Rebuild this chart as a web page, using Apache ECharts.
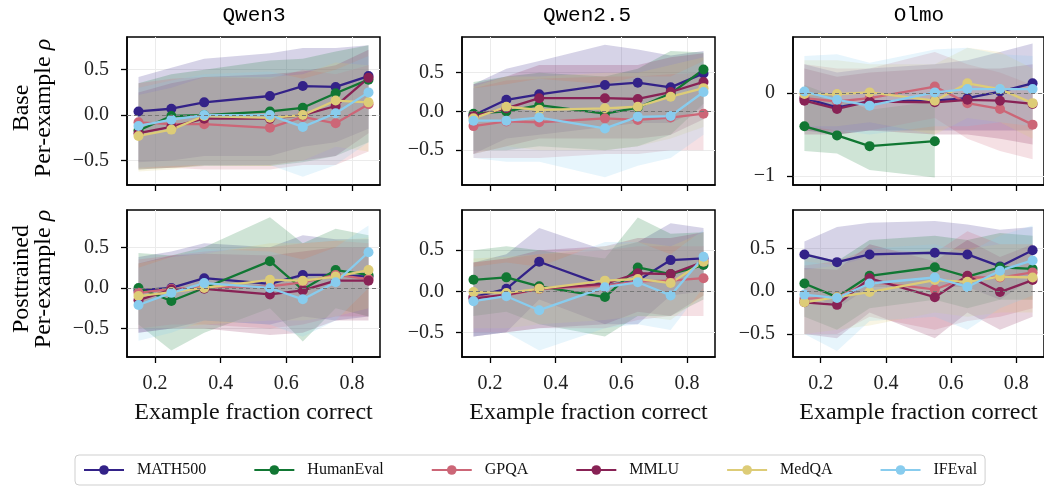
<!DOCTYPE html>
<html>
<head>
<meta charset="utf-8">
<script src="https://cdn.jsdelivr.net/npm/echarts@6/dist/echarts.min.js"></script>
<style>
html, body { margin: 0; padding: 0; background: #fff; }
#main { width: 1044px; height: 489px; }
</style>
</head>
<body>
<div id="main"></div>
<script>
// x positions (fraction of samples correct) and benchmark names
var fractions = [0.15, 0.25, 0.35, 0.55, 0.65, 0.75, 0.85];
var benchmarks = ["MATH500", "HumanEval", "GPQA", "MMLU", "MedQA", "IFEval"];
var colors = ["#332288", "#117733", "#CC6677", "#882255", "#DDCC77", "#88CCEE"];
var models = ["Qwen3", "Qwen2.5", "Olmo"];
var stages = ["Base", "Posttrained"];
var xTicks = [0.2, 0.4, 0.6, 0.8];

// ---- Qwen3 base ----
var qwen3BaseMean = [
  [0.04, 0.07, 0.14, 0.21, 0.32, 0.31, 0.43],
  [-0.17, -0.01, 0.0, 0.04, 0.08, 0.24, 0.39],
  [-0.08, -0.10, -0.10, -0.14, -0.02, -0.09, 0.12],
  [-0.20, -0.13, -0.04, -0.04, 0.0, 0.10, 0.41],
  [-0.23, -0.16, -0.01, -0.03, 0.0, 0.16, 0.14],
  [-0.12, -0.05, 0.0, 0.0, -0.13, 0.02, 0.25]
];
var qwen3BaseLo = [
  [-0.52, -0.50, -0.45, -0.45, -0.35, -0.30, -0.15],
  [-0.60, -0.58, -0.56, -0.56, -0.52, -0.45, -0.30],
  [-0.58, -0.58, -0.60, -0.60, -0.55, -0.55, -0.40],
  [-0.60, -0.58, -0.55, -0.55, -0.50, -0.45, -0.20],
  [-0.62, -0.60, -0.55, -0.56, -0.50, -0.35, -0.40],
  [-0.58, -0.56, -0.55, -0.55, -0.68, -0.55, -0.30]
];
var qwen3BaseHi = [
  [0.42, 0.52, 0.62, 0.68, 0.74, 0.74, 0.77],
  [0.35, 0.45, 0.50, 0.60, 0.62, 0.70, 0.77],
  [0.35, 0.40, 0.42, 0.40, 0.50, 0.45, 0.55],
  [0.25, 0.35, 0.42, 0.45, 0.48, 0.55, 0.72],
  [0.22, 0.30, 0.42, 0.42, 0.45, 0.58, 0.55],
  [0.30, 0.38, 0.45, 0.48, 0.40, 0.50, 0.65]
];

// ---- Qwen2.5 base ----
var qwen25BaseMean = [
  [-0.05, 0.15, 0.22, 0.34, 0.37, 0.31, 0.49],
  [-0.03, 0.0, 0.08, -0.03, 0.05, 0.23, 0.54],
  [-0.19, -0.13, -0.14, -0.09, -0.11, -0.08, -0.03],
  [-0.06, 0.04, 0.17, 0.17, 0.16, 0.25, 0.38],
  [-0.09, 0.06, 0.02, 0.04, 0.06, 0.19, 0.30],
  [-0.12, -0.12, -0.08, -0.22, -0.07, -0.06, 0.25]
];
var qwen25BaseLo = [
  [-0.55, -0.35, -0.30, -0.20, -0.15, -0.15, 0.05],
  [-0.50, -0.50, -0.45, -0.50, -0.45, -0.30, 0.10],
  [-0.60, -0.60, -0.60, -0.55, -0.55, -0.50, -0.50],
  [-0.55, -0.45, -0.35, -0.35, -0.35, -0.30, -0.10],
  [-0.55, -0.45, -0.50, -0.50, -0.45, -0.35, -0.20],
  [-0.60, -0.65, -0.65, -0.85, -0.70, -0.60, -0.30]
];
var qwen25BaseHi = [
  [0.35, 0.55, 0.65, 0.86, 0.80, 0.72, 0.78],
  [0.38, 0.45, 0.50, 0.45, 0.55, 0.78, 0.76],
  [0.30, 0.40, 0.42, 0.45, 0.45, 0.48, 0.50],
  [0.35, 0.45, 0.60, 0.60, 0.60, 0.70, 0.75],
  [0.32, 0.45, 0.45, 0.50, 0.50, 0.60, 0.70],
  [0.30, 0.35, 0.42, 0.35, 0.45, 0.45, 0.65]
];

// ---- Olmo base (HumanEval has no data past 0.55) ----
var olmoBaseMean = [
  [-0.06, -0.17, -0.10, -0.09, -0.06, 0.02, 0.12],
  [-0.40, -0.51, -0.64, -0.58, null, null, null],
  [-0.06, -0.10, -0.06, 0.08, -0.12, -0.19, -0.38],
  [-0.09, -0.19, -0.10, -0.11, -0.08, -0.09, -0.13],
  [-0.01, -0.01, 0.01, -0.09, 0.12, 0.05, -0.12],
  [0.02, -0.08, -0.15, 0.01, 0.05, 0.05, 0.05]
];
var olmoBaseLo = [
  [-0.45, -0.50, -0.45, -0.45, -0.45, -0.45, -0.45],
  [-0.70, -0.73, -0.93, -1.02, null, null, null],
  [-0.45, -0.45, -0.45, -0.30, -0.55, -0.70, -0.80],
  [-0.50, -0.50, -0.45, -0.50, -0.50, -0.55, -0.62],
  [-0.40, -0.40, -0.35, -0.50, -0.30, -0.35, -0.55],
  [-0.40, -0.45, -0.50, -0.40, -0.40, -0.35, -0.40]
];
var olmoBaseHi = [
  [0.35, 0.25, 0.30, 0.35, 0.40, 0.50, 0.60],
  [0.10, -0.05, -0.20, -0.10, null, null, null],
  [0.35, 0.30, 0.30, 0.50, 0.35, 0.25, 0.10],
  [0.30, 0.20, 0.25, 0.30, 0.30, 0.30, 0.35],
  [0.40, 0.40, 0.35, 0.35, 0.55, 0.50, 0.30],
  [0.45, 0.47, 0.37, 0.53, 0.55, 0.47, 0.45]
];

// ---- Qwen3 posttrained ----
var qwen3PostMean = [
  [-0.03, 0.0, 0.12, 0.05, 0.16, 0.16, 0.14],
  [0.0, -0.16, 0.0, 0.33, -0.02, 0.22, 0.16],
  [-0.06, -0.01, 0.01, 0.02, 0.07, 0.16, 0.11],
  [-0.15, -0.02, -0.01, -0.08, -0.03, 0.09, 0.09],
  [-0.10, -0.05, 0.0, 0.10, 0.09, 0.14, 0.22],
  [-0.21, -0.06, 0.06, 0.0, -0.14, 0.07, 0.44]
];
var qwen3PostLo = [
  [-0.55, -0.50, -0.40, -0.45, -0.35, -0.40, -0.35],
  [-0.45, -0.77, -0.55, -0.25, -0.66, -0.25, -0.35],
  [-0.50, -0.45, -0.45, -0.50, -0.45, -0.35, -0.35],
  [-0.55, -0.50, -0.50, -0.58, -0.55, -0.40, -0.40],
  [-0.50, -0.50, -0.45, -0.40, -0.40, -0.35, -0.25],
  [-0.65, -0.55, -0.40, -0.45, -0.60, -0.40, 0.0]
];
var qwen3PostHi = [
  [0.38, 0.45, 0.55, 0.50, 0.65, 0.60, 0.60],
  [0.43, 0.40, 0.50, 0.87, 0.55, 0.73, 0.65],
  [0.35, 0.40, 0.45, 0.50, 0.55, 0.58, 0.55],
  [0.30, 0.40, 0.42, 0.40, 0.45, 0.50, 0.50],
  [0.30, 0.38, 0.42, 0.55, 0.55, 0.58, 0.62],
  [0.25, 0.38, 0.48, 0.45, 0.35, 0.50, 0.77]
];

// ---- Qwen2.5 posttrained ----
var qwen25PostMean = [
  [-0.07, 0.03, 0.36, 0.07, 0.13, 0.38, 0.40],
  [0.14, 0.17, 0.06, -0.07, 0.29, 0.21, 0.32],
  [-0.07, -0.05, 0.03, 0.07, 0.12, 0.13, 0.16],
  [-0.09, -0.04, 0.03, 0.09, 0.22, 0.21, 0.36],
  [-0.01, -0.02, 0.03, 0.13, 0.15, 0.10, 0.36],
  [-0.12, -0.06, -0.23, 0.05, 0.11, -0.05, 0.42]
];
var qwen25PostLo = [
  [-0.55, -0.50, -0.10, -0.40, -0.40, -0.05, 0.0],
  [-0.30, -0.25, -0.40, -0.55, -0.30, -0.30, -0.10],
  [-0.50, -0.50, -0.45, -0.45, -0.35, -0.30, -0.30],
  [-0.55, -0.50, -0.45, -0.40, -0.25, -0.30, -0.05],
  [-0.45, -0.45, -0.40, -0.35, -0.30, -0.35, -0.05],
  [-0.55, -0.50, -0.72, -0.45, -0.40, -0.47, 0.05]
];
var qwen25PostHi = [
  [0.35, 0.45, 0.77, 0.50, 0.60, 0.83, 0.77],
  [0.50, 0.55, 0.50, 0.40, 0.90, 0.70, 0.72],
  [0.35, 0.40, 0.45, 0.50, 0.55, 0.55, 0.55],
  [0.35, 0.40, 0.50, 0.55, 0.65, 0.65, 0.72],
  [0.40, 0.42, 0.45, 0.55, 0.60, 0.55, 0.72],
  [0.30, 0.35, 0.30, 0.60, 0.60, 0.45, 0.75]
];

// ---- Olmo posttrained ----
var olmoPostMean = [
  [0.43, 0.34, 0.43, 0.45, 0.43, 0.29, 0.48],
  [0.09, -0.07, 0.18, 0.28, 0.17, 0.28, 0.26],
  [-0.09, -0.07, 0.11, 0.02, 0.16, 0.16, 0.22],
  [-0.13, -0.16, 0.15, -0.07, 0.18, -0.01, 0.13],
  [-0.13, -0.07, -0.01, 0.13, 0.11, 0.17, 0.16],
  [-0.04, -0.08, 0.09, 0.16, 0.05, 0.24, 0.36]
];
var olmoPostLo = [
  [0.0, -0.20, 0.05, 0.05, 0.05, -0.10, 0.15],
  [-0.30, -0.45, -0.20, -0.10, -0.20, -0.10, -0.10],
  [-0.50, -0.50, -0.30, -0.45, -0.35, -0.30, -0.20],
  [-0.50, -0.55, -0.25, -0.55, -0.25, -0.45, -0.30],
  [-0.50, -0.45, -0.40, -0.25, -0.30, -0.25, -0.25],
  [-0.50, -0.70, -0.35, -0.30, -0.45, -0.20, -0.05]
];
var olmoPostHi = [
  [0.58, 0.75, 0.80, 0.82, 0.78, 0.72, 0.75],
  [0.45, 0.35, 0.60, 0.65, 0.60, 0.68, 0.65],
  [0.30, 0.35, 0.50, 0.45, 0.70, 0.55, 0.55],
  [0.27, 0.25, 0.55, 0.35, 0.60, 0.40, 0.55],
  [0.25, 0.30, 0.40, 0.50, 0.50, 0.55, 0.55],
  [0.35, 0.30, 0.50, 0.55, 0.45, 0.65, 0.77]
];

// axis limits per panel (row-major) and y tick positions
var yMins = [-0.77, -0.95, -1.11, -0.85, -0.80, -0.77];
var yMaxs = [0.86, 0.96, 0.68, 0.96, 0.99, 0.95];
var yTickSets = [
  [-0.5, 0, 0.5], [-0.5, 0, 0.5], [-1, 0],
  [-0.5, 0, 0.5], [-0.5, 0, 0.5], [-0.5, 0, 0.5]
];

var panels = [
  { mean: qwen3BaseMean, lo: qwen3BaseLo, hi: qwen3BaseHi },
  { mean: qwen25BaseMean, lo: qwen25BaseLo, hi: qwen25BaseHi },
  { mean: olmoBaseMean, lo: olmoBaseLo, hi: olmoBaseHi },
  { mean: qwen3PostMean, lo: qwen3PostLo, hi: qwen3PostHi },
  { mean: qwen25PostMean, lo: qwen25PostLo, hi: qwen25PostHi },
  { mean: olmoPostMean, lo: olmoPostLo, hi: olmoPostHi }
];

var gridLeft = [127, 462, 793];
var gridWidth = [253, 253, 255];
var gridTop = [37, 210];
var gridHeight = [148, 147];

var serif = "Liberation Serif";
var chart = echarts.init(document.getElementById("main"));

function minus(s) {
  return s.replace("-", "\u2212");
}

// polygon between lo and hi, drawn once per band through the axis scales
function bandRenderer(lo, hi, color) {
  return function (params, api) {
    if (params.dataIndex !== 0) return;
    var top = [], bottom = [];
    fractions.forEach(function (x, i) {
      if (lo[i] == null || hi[i] == null) return;
      top.push(api.coord([x, hi[i]]));
      bottom.unshift(api.coord([x, lo[i]]));
    });
    return {
      type: "polygon",
      shape: { points: top.concat(bottom) },
      style: { fill: color, opacity: 0.2 },
      silent: true
    };
  };
}

var grids = [], xAxes = [], yAxes = [], series = [];

panels.forEach(function (p, k) {
  var row = Math.floor(k / 3), col = k % 3;
  grids.push({
    left: gridLeft[col], top: gridTop[row],
    width: gridWidth[col], height: gridHeight[row],
    show: true, backgroundColor: "#fff",
    borderColor: "#000", borderWidth: 1.5
  });
  xAxes.push({
    type: "value", gridIndex: k, min: 0.115, max: 0.885,
    axisLine: { show: true, onZero: false, lineStyle: { color: "#000", width: 1.5 } },
    axisTick: { show: true, length: 6, customValues: xTicks, lineStyle: { color: "#000", width: 1.3 } },
    axisLabel: {
      show: row === 1, customValues: xTicks, margin: 17,
      color: "#222", fontFamily: serif, fontSize: 20,
      formatter: function (v) { return v.toFixed(1); }
    },
    splitLine: { show: true, lineStyle: { color: "#ebebeb", width: 1 } },
    name: row === 1 ? "Example fraction correct" : "",
    nameLocation: "middle", nameGap: 44,
    nameTextStyle: { color: "#111", fontFamily: serif, fontSize: 24 }
  });
  var ticks = yTickSets[k];
  yAxes.push({
    type: "value", gridIndex: k, min: yMins[k], max: yMaxs[k],
    axisLine: { show: true, onZero: false, lineStyle: { color: "#000", width: 1.5 } },
    axisTick: { show: true, length: 6, customValues: ticks, lineStyle: { color: "#000", width: 1.3 } },
    axisLabel: {
      customValues: ticks, margin: 18, color: "#222",
      fontFamily: serif, fontSize: 20,
      formatter: function (v) {
        return minus(k === 2 ? v.toFixed(0) : v.toFixed(1));
      }
    },
    splitLine: { show: true, lineStyle: { color: "#ebebeb", width: 1 } }
  });

  // shaded spread bands
  benchmarks.forEach(function (name, b) {
    series.push({
      type: "custom", name: name + " band", xAxisIndex: k, yAxisIndex: k,
      z: 1, silent: true, clip: true,
      renderItem: bandRenderer(p.lo[b], p.hi[b], colors[b]),
      encode: { x: 0, y: [1, 2] },
      data: fractions.map(function (x, i) { return [x, p.lo[b][i], p.hi[b][i]]; })
    });
  });

  // dashed zero reference
  series.push({
    type: "line", name: "zero" + k, xAxisIndex: k, yAxisIndex: k, z: 2,
    symbol: "none", silent: true, lineStyle: { opacity: 0 },
    data: [[0.5, 0]],
    markLine: {
      silent: true, symbol: "none", label: { show: false },
      lineStyle: { color: "#777", type: [4, 3], width: 1.2 },
      data: [{ yAxis: 0 }]
    }
  });

  benchmarks.forEach(function (name, b) {
    series.push({
      type: "line", name: name, xAxisIndex: k, yAxisIndex: k, z: 3,
      symbol: "circle", symbolSize: 10,
      lineStyle: { color: colors[b], width: 2.3 },
      itemStyle: { color: colors[b] },
      data: fractions.map(function (x, i) { return [x, p.mean[b][i]]; })
    });
  });
});

var graphics = [];
var titleX = [254, 587, 919];
models.forEach(function (m, c) {
  graphics.push({
    type: "text", x: titleX[c], y: 15,
    style: {
      text: m, fontFamily: "Liberation Mono", fontSize: 21, fill: "#000",
      align: "center", verticalAlign: "middle",
      textAlign: "center", textVerticalAlign: "middle"
    }
  });
});
var rowCenter = [108, 279];
stages.forEach(function (s, r) {
  graphics.push({
    type: "text", x: 22, y: rowCenter[r], rotation: Math.PI / 2,
    style: {
      text: s, fontFamily: serif, fontSize: 24, fill: "#000",
      align: "center", verticalAlign: "middle",
      textAlign: "center", textVerticalAlign: "middle"
    }
  });
  graphics.push({
    type: "text", x: 44, y: rowCenter[r], rotation: Math.PI / 2,
    style: {
      text: "Per-example {i|\u03c1}", fontFamily: serif, fontSize: 24, fill: "#000",
      align: "center", verticalAlign: "middle",
      textAlign: "center", textVerticalAlign: "middle",
      rich: { i: { fontStyle: "italic", fontFamily: serif, fontSize: 24, fill: "#000" } }
    }
  });
});

var option = {
  animation: false,
  backgroundColor: "#fff",
  grid: grids,
  xAxis: xAxes,
  yAxis: yAxes,
  legend: {
    data: benchmarks,
    left: 75, top: 455,
    itemWidth: 40, itemHeight: 12, itemGap: 47,
    padding: [7, 8, 7, 8],
    borderColor: "#cfcfcf", borderWidth: 1, borderRadius: 4,
    backgroundColor: "#fff",
    textStyle: { fontFamily: serif, fontSize: 16, color: "#111", padding: [0, 0, 0, 8] }
  },
  graphic: graphics,
  series: series
};

chart.setOption(option);
</script>
</body>
</html>
